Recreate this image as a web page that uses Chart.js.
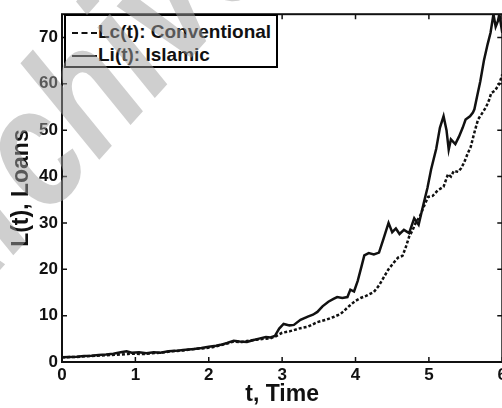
<!DOCTYPE html>
<html>
<head>
<meta charset="utf-8">
<script src="https://cdn.jsdelivr.net/npm/chart.js@4/dist/chart.umd.min.js"></script>
<style>
  html, body { margin: 0; padding: 0; background: #fff; overflow: hidden; }
  #wrap { position: relative; width: 510px; height: 408px; }
  #legend {
    position: absolute; left: 64px; top: 14px; width: 214px; height: 54px;
    border: 2px solid #000; background: #fff; box-sizing: border-box;
    font: bold 19px "Liberation Sans", Arial, sans-serif; color: #111;
  }
  #legend .row { position: absolute; left: 6px; height: 22px; line-height: 22px; white-space: nowrap; }
  #legend .ln { display: inline-block; width: 25px; vertical-align: middle; margin-right: 1px; }
  #mark { position: absolute; left: 0; top: 0; z-index: 5; pointer-events: none; }
</style>
</head>
<body>
<div id="wrap">
  <canvas id="chart"></canvas>
  <div id="legend">
    <div class="row" style="top:5px"><span class="ln" style="border-top:2px dashed #111"></span>Lc(t): Conventional</div>
    <div class="row" style="top:28px"><span class="ln" style="border-top:2px solid #111"></span>Li(t): Islamic</div>
  </div>
  <canvas id="mark" width="502" height="408"></canvas>
</div>
<script>
// Lc(t) : conventional loans (dashed)
const convT = [0, 0.2, 0.4, 0.6, 0.8, 0.9, 1.0, 1.1, 1.2, 1.34, 1.5, 1.65, 1.8, 1.95, 2.05, 2.16, 2.25, 2.34, 2.45, 2.55, 2.65, 2.75, 2.84, 2.92, 3.0, 3.1, 3.25, 3.35, 3.48, 3.6, 3.7, 3.8, 3.93, 4.0, 4.07, 4.15, 4.25, 4.32, 4.39, 4.45, 4.52, 4.58, 4.64, 4.68, 4.73, 4.78, 4.82, 4.88, 4.93, 4.99, 5.05, 5.12, 5.2, 5.26, 5.3, 5.34, 5.4, 5.44, 5.48, 5.53, 5.57, 5.62, 5.67, 5.72, 5.78, 5.82, 5.85, 5.9, 5.96, 6.0];
const convL = [1.0, 1.1, 1.3, 1.45, 1.6, 1.75, 1.8, 1.7, 1.85, 2.0, 2.3, 2.5, 2.8, 3.0, 3.2, 3.6, 4.0, 4.4, 4.3, 4.6, 4.8, 5.0, 5.1, 5.6, 6.3, 6.6, 7.3, 7.6, 8.6, 9.1, 9.7, 10.4, 12.3, 13.2, 13.8, 14.3, 15.1, 16.5, 18.4, 20.0, 21.4, 22.5, 22.9, 24.5, 27.0, 28.5, 30.0, 31.5, 33.5, 35.6, 35.8, 37.0, 37.8, 40.5, 40.0, 41.2, 41.0, 41.8, 43.0, 45.0, 46.4, 49.5, 52.3, 53.5, 55.0, 56.5, 58.0, 58.5, 60.0, 62.0];

// Li(t) : islamic loans (solid)
const islT = [0, 0.1, 0.2, 0.3, 0.4, 0.5, 0.6, 0.7, 0.8, 0.88, 0.95, 1.05, 1.15, 1.25, 1.34, 1.45, 1.55, 1.65, 1.8, 1.9, 2.0, 2.1, 2.16, 2.25, 2.34, 2.42, 2.52, 2.6, 2.7, 2.78, 2.84, 2.9, 2.96, 3.02, 3.1, 3.16, 3.25, 3.35, 3.42, 3.48, 3.55, 3.63, 3.7, 3.75, 3.82, 3.89, 3.93, 3.98, 4.03, 4.08, 4.12, 4.18, 4.25, 4.32, 4.38, 4.45, 4.5, 4.55, 4.6, 4.66, 4.73, 4.8, 4.86, 4.93, 4.98, 5.03, 5.1, 5.15, 5.2, 5.24, 5.27, 5.3, 5.36, 5.41, 5.46, 5.5, 5.56, 5.6, 5.62, 5.66, 5.7, 5.75, 5.8, 5.84, 5.88, 5.91, 5.94, 5.96, 6.0];
const islL = [1.0, 1.1, 1.15, 1.3, 1.35, 1.5, 1.6, 1.8, 2.1, 2.3, 2.0, 2.1, 1.9, 2.1, 2.0, 2.3, 2.4, 2.6, 2.8, 3.0, 3.3, 3.5, 3.7, 4.1, 4.6, 4.4, 4.3, 4.7, 5.1, 5.4, 5.3, 5.6, 7.2, 8.2, 7.9, 8.0, 9.1, 9.8, 10.2, 10.8, 12.0, 13.0, 13.6, 14.0, 13.8, 14.0, 15.6, 15.2, 17.5, 20.5, 23.0, 23.5, 23.2, 23.6, 26.5, 30.0, 28.0, 28.8, 27.6, 28.5, 27.8, 31.0, 29.6, 34.3, 37.5, 41.5, 46.0, 50.5, 53.0, 50.0, 45.8, 48.0, 47.0, 48.6, 50.5, 52.3, 53.0, 53.8, 54.5, 57.5, 60.5, 65.0, 68.5, 71.0, 75.0, 72.3, 73.5, 75.0, 71.0];

const xTicks = [0, 1, 2, 3, 4, 5, 6];
const yTicks = [0, 10, 20, 30, 40, 50, 60, 70];

const FONT = '"Liberation Sans", Arial, sans-serif';
const INK = '#111';

const pts = (ts, vs) => ts.map((t, i) => ({ x: t, y: vs[i] }));

// cadre + graduations vers l'intérieur (style matlab)
const frame = {
  id: 'frame',
  afterDraw(chart) {
    const { ctx, chartArea: a, scales } = chart;
    ctx.save();
    ctx.strokeStyle = INK;
    ctx.lineWidth = 2;
    ctx.strokeRect(a.left, a.top, a.right - a.left, a.bottom - a.top);
    ctx.lineWidth = 1.5;
    ctx.beginPath();
    xTicks.forEach(v => {
      const x = scales.x.getPixelForValue(v);
      ctx.moveTo(x, a.bottom); ctx.lineTo(x, a.bottom - 5);
      ctx.moveTo(x, a.top); ctx.lineTo(x, a.top + 5);
    });
    yTicks.forEach(v => {
      const y = scales.y.getPixelForValue(v);
      ctx.moveTo(a.left, y); ctx.lineTo(a.left + 5, y);
      ctx.moveTo(a.right, y); ctx.lineTo(a.right - 5, y);
    });
    ctx.stroke();
    ctx.restore();
  }
};

const cv = document.getElementById('chart');
cv.width = 510; cv.height = 408;

new Chart(cv, {
  type: 'line',
  data: {
    datasets: [
      { label: 'Lc(t): Conventional', data: pts(convT, convL), borderColor: INK, borderWidth: 2.5, borderDash: [3, 2], pointRadius: 0, tension: 0 },
      { label: 'Li(t): Islamic', data: pts(islT, islL), borderColor: INK, borderWidth: 2.5, pointRadius: 0, tension: 0 }
    ]
  },
  options: {
    responsive: false,
    animation: false,
    layout: { padding: { top: 13, right: 0, left: 0, bottom: 0 } },
    plugins: { legend: { display: false }, tooltip: { enabled: false } },
    scales: {
      x: {
        type: 'linear', min: 0, max: 6,
        afterBuildTicks: s => { s.ticks = xTicks.map(v => ({ value: v })); },
        afterFit: s => { s.height = 46; },
        grid: { display: false, drawTicks: false },
        border: { display: false },
        ticks: { color: INK, padding: 3, font: { family: FONT, size: 17, weight: 'bold' } },
        title: { display: true, text: 't, Time', color: INK, padding: { top: 0, bottom: 0 }, font: { family: FONT, size: 23, weight: 'bold' } }
      },
      y: {
        min: 0, max: 75,
        afterBuildTicks: s => { s.ticks = yTicks.map(v => ({ value: v })); },
        afterFit: s => { s.width = 62; },
        grid: { display: false, drawTicks: false },
        border: { display: false },
        ticks: { color: INK, padding: 4, font: { family: FONT, size: 17, weight: 'bold' } },
        title: { display: true, text: 'L(t), Loans', color: INK, padding: { top: 8, bottom: 0 }, font: { family: FONT, size: 23, weight: 'bold' } }
      }
    }
  },
  plugins: [frame]
});

// filigrane gris en haut à gauche
const mk = document.getElementById('mark').getContext('2d');
mk.translate(-54, 330);
mk.rotate(-48 * Math.PI / 180);
mk.scale(0.8, 1);
mk.font = 'italic bold 170px ' + FONT;
mk.fillStyle = 'rgba(160,160,160,0.5)';
mk.fillText('Archive of SID', 0, 0);
</script>
</body>
</html>
